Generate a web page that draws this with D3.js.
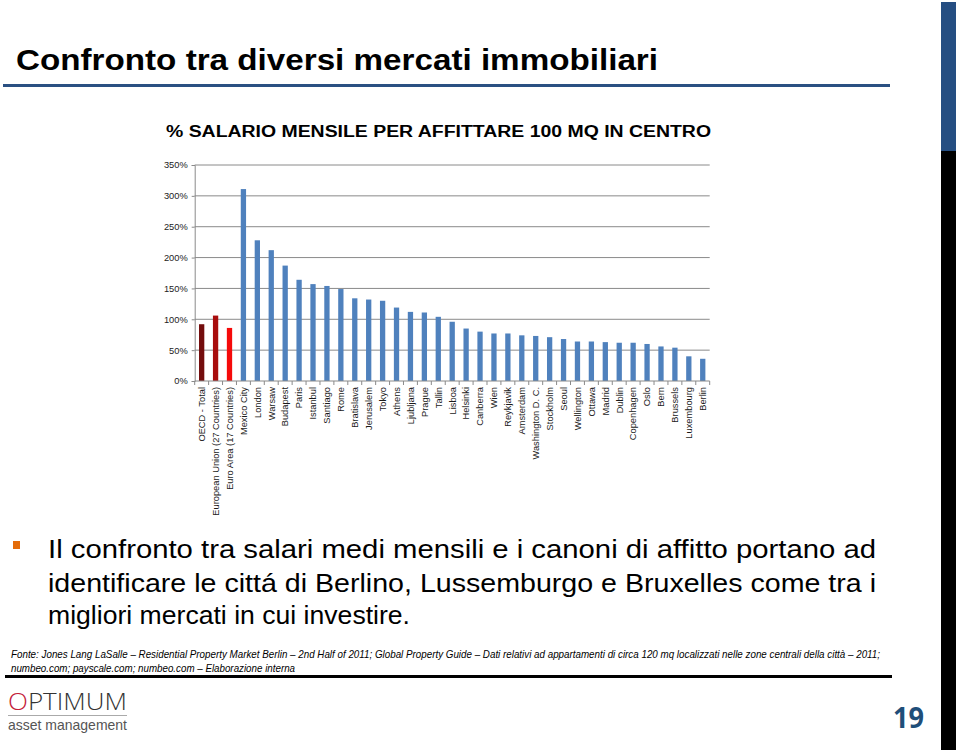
<!DOCTYPE html>
<html><head><meta charset="utf-8">
<script src="https://cdn.jsdelivr.net/npm/d3@7"></script>
<style>body{margin:0;background:#fff;}svg{display:block;}</style>
</head><body>
<svg id="c" width="960" height="752"></svg>
<script>
const categories = ["OECD - Total","European Union (27 Countries)","Euro Area (17 Countries)","Mexico City","London","Warsaw","Budapest","Paris","Istanbul","Santiago","Rome","Bratislava","Jerusalem","Tokyo","Athens","Ljubljana","Prague","Tallin","Lisboa","Helsinki","Canberra","Wien","Reykjavik","Amsterdam","Washington D. C.","Stockholm","Seoul","Wellington","Ottawa","Madrid","Dublin","Copenhagen","Oslo","Bern","Brussels","Luxembourg","Berlin"];
const values = [92,106,86,311,228,212,187,164,157,154,149,134,132,130,119,112,111,104,96,85,80,77,77,74,73,71,68,64,64,63,62,62,60,56,54,40,36];
const barColors = ["#730c0c","#a80d0d","#f50a0a"];
const defaultColor = "#4f81bd";
const yTicks = [0,50,100,150,200,250,300,350];
const title = "Confronto tra diversi mercati immobiliari";
const chartTitle = "% SALARIO MENSILE PER AFFITTARE 100 MQ IN CENTRO";
const bodyLines = ["Il confronto tra salari medi mensili e i canoni di affitto portano ad","identificare le cittá di Berlino, Lussemburgo e Bruxelles come tra i","migliori mercati in cui investire."];
const sourceLines = ["Fonte:  Jones Lang LaSalle – Residential Property Market Berlin – 2nd Half of 2011; Global Property Guide – Dati relativi ad appartamenti di circa 120 mq localizzati nelle zone centrali della città – 2011;","numbeo.com; payscale.com; numbeo.com – Elaborazione interna"];

const svg = d3.select("#c");
const sans = "'Liberation Sans',Arial,Helvetica,sans-serif";

// right side bar
svg.append("rect").attr("x",941).attr("y",2).attr("width",15).attr("height",149).attr("fill","#254e82");
svg.append("rect").attr("x",941).attr("y",151).attr("width",15).attr("height",599).attr("fill","#000");

// title
svg.append("text").attr("x",16).attr("y",70).attr("font-family",sans).attr("font-weight","bold")
  .attr("font-size",29.5).attr("fill","#000").attr("textLength",642).attr("lengthAdjust","spacingAndGlyphs").text(title);
svg.append("rect").attr("x",3).attr("y",84).attr("width",887).attr("height",3).attr("fill","#2a5082");

// chart subtitle
svg.append("text").attr("x",166).attr("y",137).attr("font-family",sans).attr("font-weight","bold")
  .attr("font-size",16).attr("fill","#000").attr("textLength",545).attr("lengthAdjust","spacingAndGlyphs").text(chartTitle);

// chart
const m = {left:194.7,right:709.7,top:165,bottom:381};
const x = d3.scaleBand().domain(categories).range([m.left,m.right]).paddingInner(0.62).paddingOuter(0.31);
const xb = d3.scaleBand().domain(categories).range([m.left,m.right]);
const y = d3.scaleLinear().domain([0,350]).range([m.bottom,m.top]);
const g = svg.append("g");

// gridlines
g.selectAll("line.grid").data(yTicks.filter(t=>t>0)).join("line")
  .attr("x1",m.left).attr("x2",m.right).attr("y1",d=>y(d)).attr("y2",d=>y(d))
  .attr("stroke","#8a8a8a").attr("stroke-width",1);

// y axis
const yAxis = d3.axisLeft(y).tickValues(yTicks).tickFormat(d=>d+"%").tickSize(3).tickPadding(4);
const ya = g.append("g").attr("transform",`translate(${m.left},0)`).call(yAxis);
ya.select(".domain").attr("stroke","#8a8a8a");
ya.selectAll(".tick line").attr("stroke","#8a8a8a");
ya.selectAll(".tick text").attr("font-family",sans).attr("font-size",9.3).attr("fill","#222");

// bars
g.selectAll("rect.bar").data(categories).join("rect").attr("class","bar")
  .attr("x",d=>x(d)).attr("width",x.bandwidth())
  .attr("y",(d,i)=>y(values[i])).attr("height",(d,i)=>y(0)-y(values[i]))
  .attr("fill",(d,i)=>barColors[i]||defaultColor);

// x axis baseline & ticks between categories
g.append("line").attr("x1",m.left).attr("x2",m.right).attr("y1",m.bottom).attr("y2",m.bottom).attr("stroke","#8a8a8a");
const bounds = categories.map(c=>xb(c)).concat([m.right]);
g.selectAll("line.xt").data(bounds).join("line")
  .attr("x1",d=>d).attr("x2",d=>d).attr("y1",m.bottom).attr("y2",m.bottom+4).attr("stroke","#8a8a8a");

// x labels
g.selectAll("text.xl").data(categories).join("text")
  .attr("transform",d=>`translate(${xb(d)+xb.bandwidth()/2+3.3},${m.bottom+6}) rotate(-90)`)
  .attr("text-anchor","end").attr("font-family",sans).attr("font-size",9.3).attr("fill","#1a1a1a").text(d=>d);

// bullet paragraph
svg.append("rect").attr("x",13).attr("y",541).attr("width",7).attr("height",8).attr("fill","#e46c0a");
const bodyY = [558,592,624];
const bodyLen = [828,828,362];
bodyLines.forEach((t,i)=>{
  svg.append("text").attr("x",48).attr("y",bodyY[i]).attr("font-family",sans)
    .attr("font-size",26.5).attr("fill","#000")
    .attr("textLength",bodyLen[i]).attr("lengthAdjust","spacingAndGlyphs").text(t);
});

// source
sourceLines.forEach((t,i)=>{
  const tx = svg.append("text").attr("x",11).attr("y",[658,672][i]).attr("font-family",sans)
    .attr("font-style","italic").attr("font-size",10.5).attr("fill","#000").text(t);
  tx.attr("textLength",[869,284][i]).attr("lengthAdjust","spacingAndGlyphs");
});
svg.append("rect").attr("x",5).attr("y",675).attr("width",887).attr("height",3).attr("fill","#000");

// logo
const logo = svg.append("text").attr("x",8).attr("y",710).attr("font-family","'Open Sans',sans-serif")
  .attr("font-weight",300).attr("font-size",23).attr("textLength",119).attr("lengthAdjust","spacingAndGlyphs");
logo.append("tspan").attr("fill","#c4203a").text("O");
logo.append("tspan").attr("fill","#333").text("PTIMUM");
svg.append("rect").attr("x",8).attr("y",715).attr("width",119).attr("height",1).attr("fill","#aaa");
svg.append("text").attr("x",8).attr("y",730).attr("font-family",sans)
  .attr("font-size",14.5).attr("fill","#555").attr("textLength",119).attr("lengthAdjust","spacingAndGlyphs").text("asset management");

// page number
svg.append("text").attr("x",893).attr("y",728).attr("font-family","'Open Sans',sans-serif")
  .attr("font-weight","bold").attr("font-size",29).attr("fill","#1f4e79").attr("textLength",31).attr("lengthAdjust","spacingAndGlyphs").text("19");
</script>
</body></html>
